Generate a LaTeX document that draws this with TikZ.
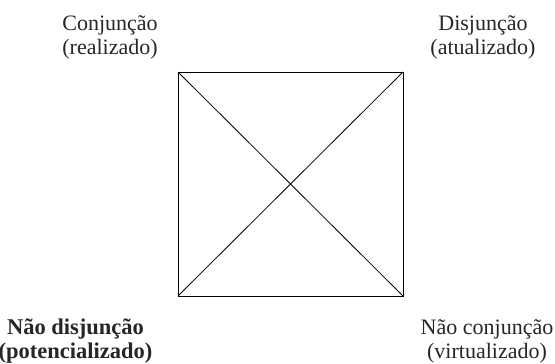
\documentclass[tikz,border=0pt]{standalone}
\usepackage{fontspec}
\setmainfont{Liberation Serif}
\begin{document}
\begin{tikzpicture}[x=1pt,y=-1pt,
  lab/.style={align=center,font=\fontsize{22}{24}\selectfont,inner sep=0pt,text=black!85},
  blab/.style={lab,font=\fontsize{22.5}{24}\selectfont\bfseries},
  edge/.style={draw=black,line width=0.8pt}]
\useasboundingbox (0,0) rectangle (555,364);
\coordinate (tl) at (178,72);
\coordinate (tr) at (403,72);
\coordinate (bl) at (178,296);
\coordinate (br) at (403,296);
\draw[edge] (tl) -- (tr) -- (br) -- (bl) -- cycle;
\draw[edge] (tl) -- (br);
\draw[edge] (tr) -- (bl);
\node[lab] (conj) at (110,37) {Conjunção\\(realizado)};
\node[lab] (disj) at (483,37) {Disjunção\\(atualizado)};
\node[blab] (ndisj) at (75.5,341) {Não disjunção\\(potencializado)};
\node[lab] (nconj) at (487,341) {Não conjunção\\(virtualizado)};
\end{tikzpicture}
\end{document}
